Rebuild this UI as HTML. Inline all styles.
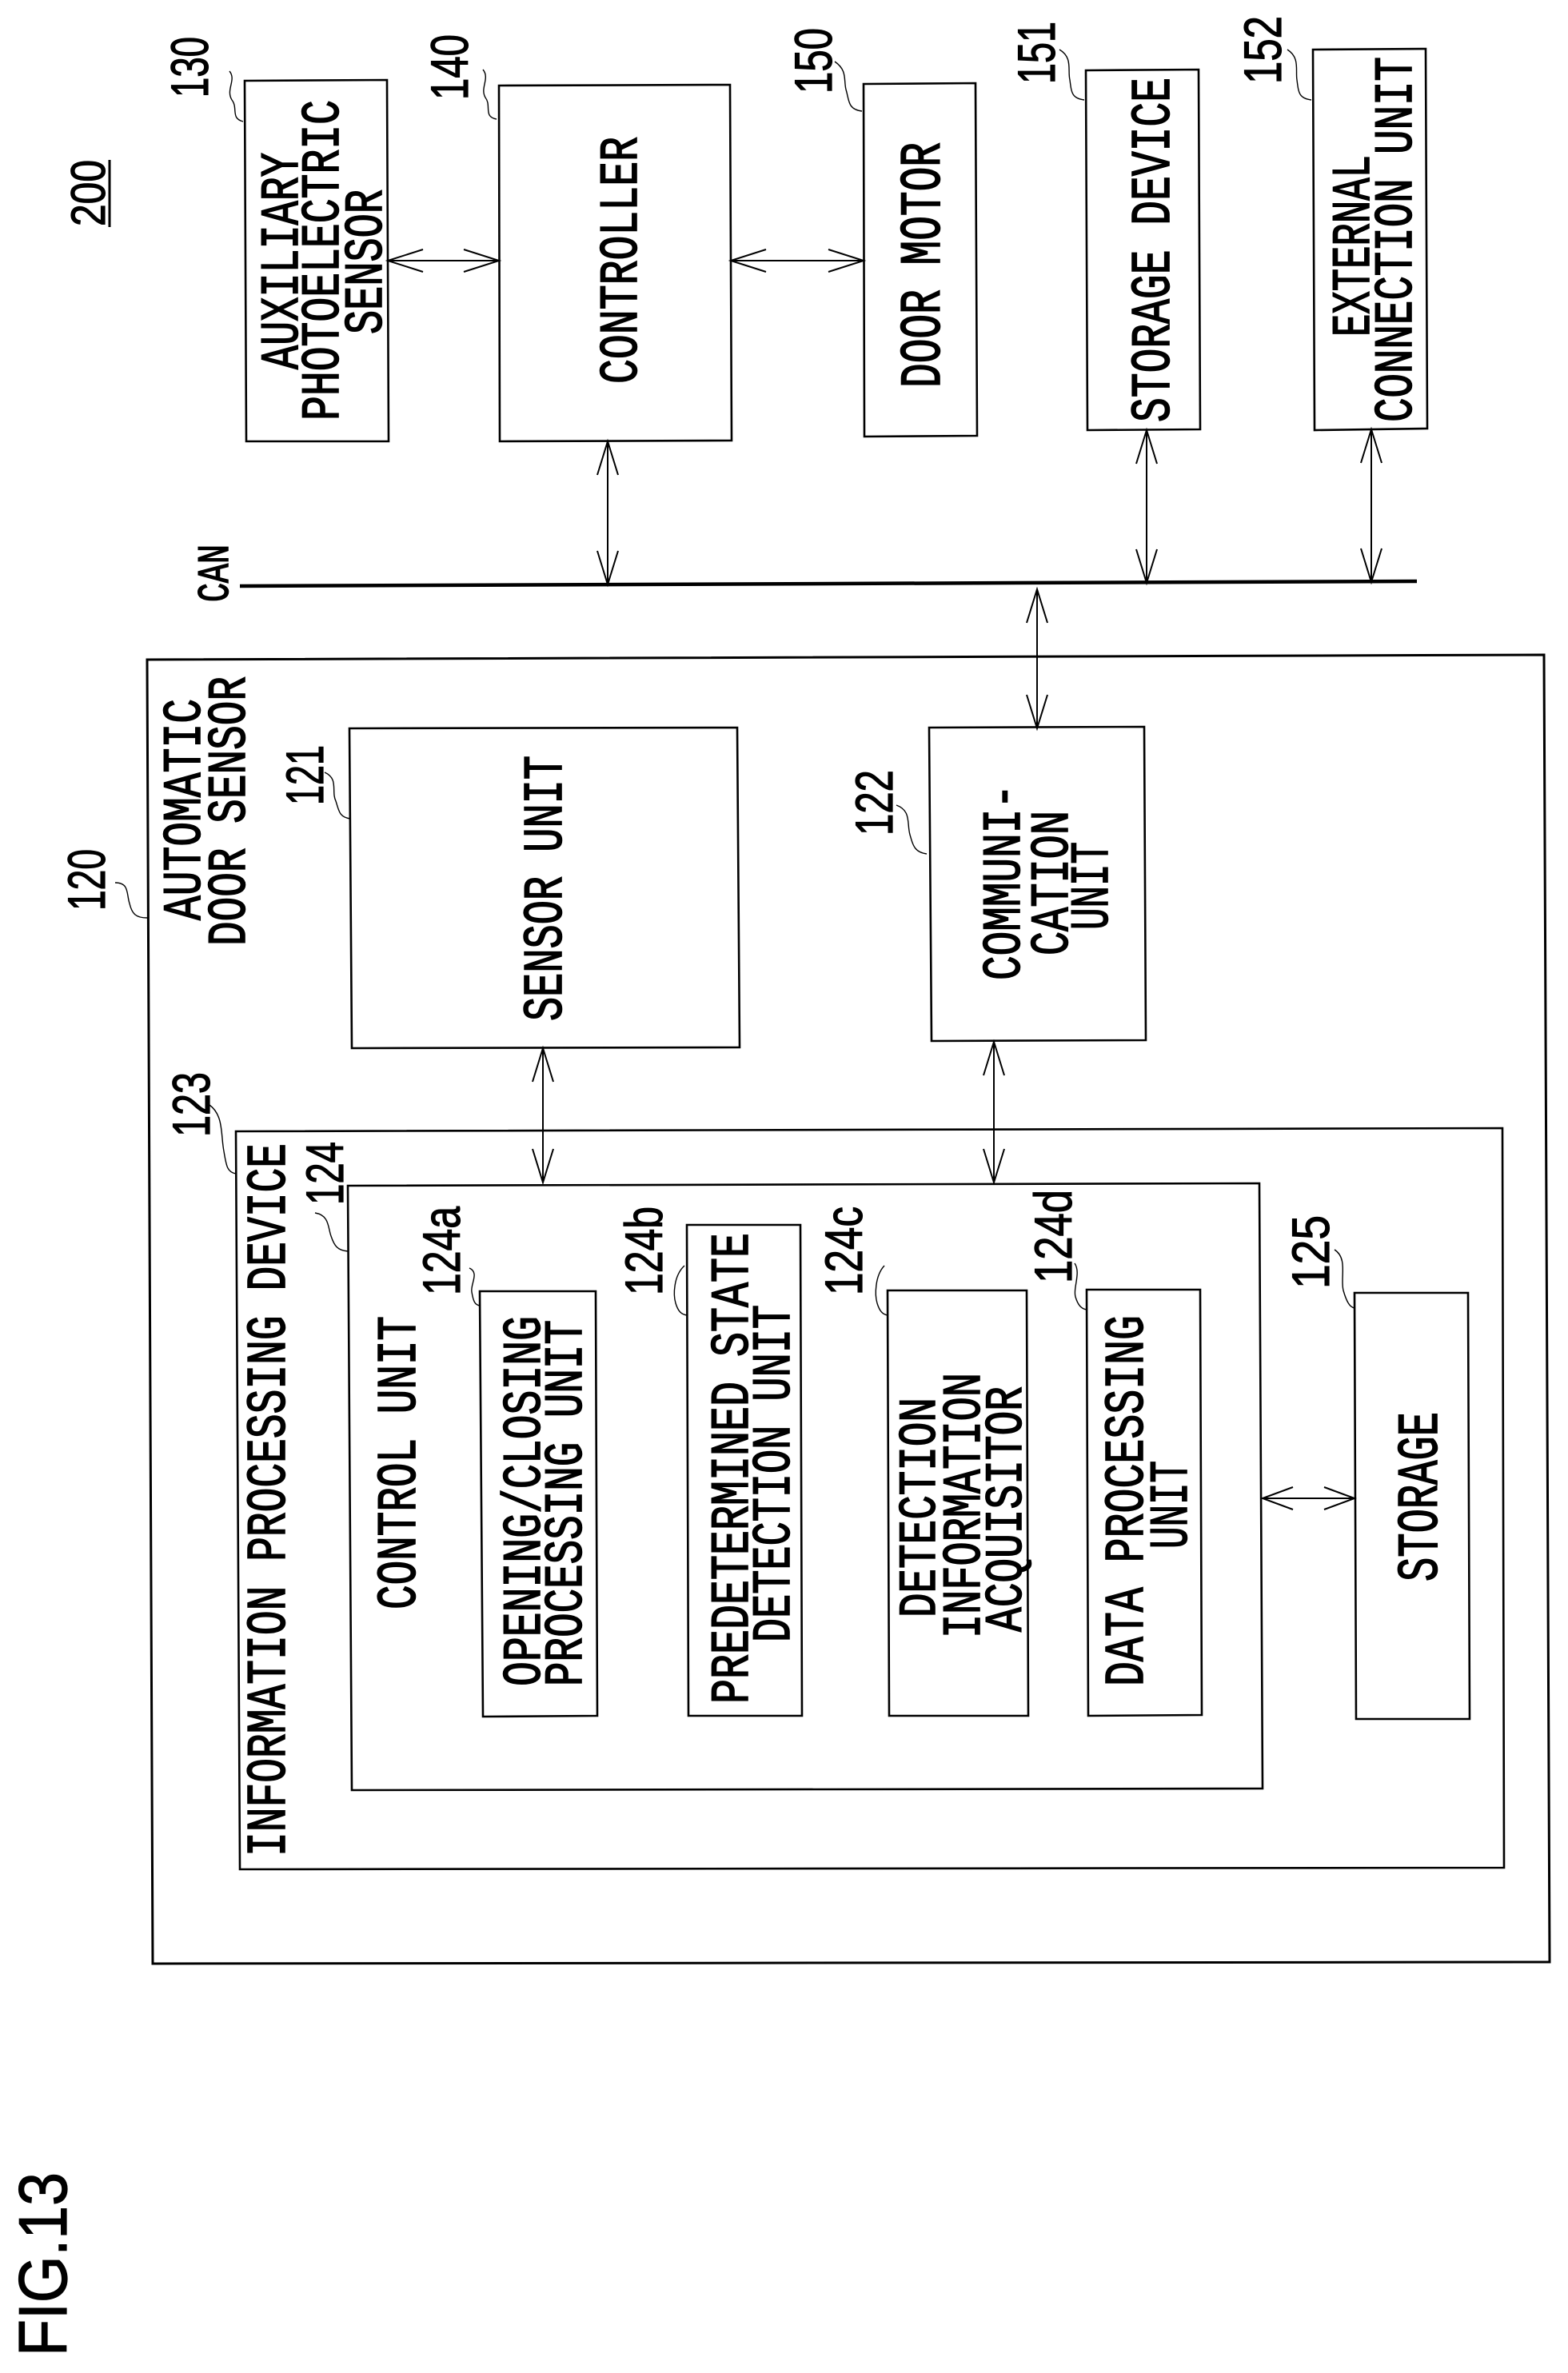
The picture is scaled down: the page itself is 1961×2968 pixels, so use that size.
<!DOCTYPE html>
<html><head><meta charset="utf-8"><title>FIG.13</title>
<style>
html,body{margin:0;padding:0;background:#fff}
svg{display:block}
text{font-family:"Liberation Sans",sans-serif;fill:#000;stroke:#000;stroke-width:1.2px}
text.m{font-family:"Liberation Mono",monospace;font-weight:normal;stroke-width:1.6px}
polygon{fill:none;stroke:#000;stroke-width:2.6}
.a{fill:none;stroke:#000;stroke-width:2}
.l{fill:none;stroke:#000;stroke-width:1.4}
</style></head><body>
<svg xmlns="http://www.w3.org/2000/svg" width="1961" height="2968" viewBox="0 0 1961 2968">
<rect width="1961" height="2968" fill="#fff"/>

<!-- boxes -->
<polygon points="306,101 484,100 486,552 308,552"/>
<polygon points="624,107 913,106 915,551 625,552"/>
<polygon points="1080,105 1220,104 1222,545 1081,546"/>
<polygon points="1358,88 1499,87 1501,537 1360,538"/>
<polygon points="1642,62 1783,61 1785,536 1644,538"/>
<polygon points="184,825 1931,819 1938,2454 191,2456" style="stroke-width:3"/>
<polygon points="437,911 922,910 925,1310 440,1311"/>
<polygon points="1162,910 1431,909 1433,1301 1165,1302"/>
<polygon points="295,1415 1879,1411 1881,2336 300,2338"/>
<polygon points="435,1483 1575,1480 1579,2237 440,2239"/>
<polygon points="600,1615 745,1615 747,2146 604,2147"/>
<polygon points="859,1532 1001,1532 1003,2146 861,2146"/>
<polygon points="1110,1614 1284,1614 1286,2146 1112,2146"/>
<polygon points="1359,1613 1501,1613 1503,2145 1361,2146"/>
<polygon points="1694,1617 1836,1617 1838,2150 1696,2150"/>

<!-- CAN bus -->
<line x1="300" y1="733" x2="1772" y2="727" stroke="#000" stroke-width="4.5"/>

<!-- arrows -->
<path class="a" d="M485,326H624M529,312L485,326L529,340M580,312L624,326L580,340"/>
<path class="a" d="M914,326H1080M958,312L914,326L958,340M1036,312L1080,326L1036,340"/>
<path class="a" d="M760,552V731M747,594L760,552L773,594M747,689L760,731L773,689"/>
<path class="a" d="M1434,538V729M1421,580L1434,538L1447,580M1421,687L1434,729L1447,687"/>
<path class="a" d="M1715,537V728M1702,579L1715,537L1728,579M1702,686L1715,728L1728,686"/>
<path class="a" d="M1297,737V911M1284,779L1297,737L1310,779M1284,869L1297,911L1310,869"/>
<path class="a" d="M679,1311V1479M666,1353L679,1311L692,1353M666,1437L679,1479L692,1437"/>
<path class="a" d="M1243,1303V1479M1230,1345L1243,1303L1256,1345M1230,1437L1243,1479L1256,1437"/>
<path class="a" d="M1579,1874H1694M1617,1860L1579,1874L1617,1888M1656,1860L1694,1874L1656,1888"/>

<!-- leaders -->
<path class="l" d="M287,89C296,100 282,112 290,125C298,135 288,148 304,152"/>
<path class="l" d="M604,87C613,98 600,110 607,122C615,132 604,146 621,149"/>
<path class="l" d="M1044,77C1060,88 1055,100 1058,112C1062,125 1060,137 1078,139"/>
<path class="l" d="M1325,62C1342,72 1335,88 1338,100C1340,115 1340,123 1356,125"/>
<path class="l" d="M1610,62C1626,72 1620,88 1622,100C1624,115 1624,123 1640,125"/>
<path class="l" d="M144,1104C162,1104 158,1118 162,1130C165,1143 170,1148 184,1148"/>
<path class="l" d="M406,966C424,974 414,990 420,1002C424,1014 424,1022 438,1024"/>
<path class="l" d="M1121,1007C1140,1014 1134,1030 1138,1044C1142,1058 1144,1066 1159,1068"/>
<path class="l" d="M262,1382C280,1395 276,1420 280,1440C283,1458 284,1466 295,1468"/>
<path class="l" d="M394,1517C412,1520 410,1535 414,1546C418,1558 422,1564 435,1565"/>
<path class="l" d="M587,1586C600,1592 588,1606 590,1616C592,1628 594,1632 600,1633"/>
<path class="l" d="M856,1583C842,1596 842,1620 845,1630C848,1640 852,1644 859,1645"/>
<path class="l" d="M1106,1583C1094,1596 1094,1620 1097,1630C1100,1640 1104,1644 1110,1645"/>
<path class="l" d="M1344,1580C1352,1592 1342,1610 1345,1622C1348,1632 1352,1637 1359,1638"/>
<path class="l" d="M1669,1563C1686,1574 1676,1598 1680,1614C1684,1628 1688,1635 1694,1636"/>

<!-- reference numbers -->
<text transform="translate(131,283) rotate(-90)" font-size="60" textLength="83" lengthAdjust="spacingAndGlyphs">200</text>
<line x1="137" y1="200" x2="137" y2="284" stroke="#000" stroke-width="3"/>
<text transform="translate(260,122) rotate(-90)" font-size="66" textLength="76" lengthAdjust="spacingAndGlyphs">130</text>
<text transform="translate(585,125) rotate(-90)" font-size="66" textLength="82" lengthAdjust="spacingAndGlyphs">140</text>
<text transform="translate(1040,117) rotate(-90)" font-size="66" textLength="82" lengthAdjust="spacingAndGlyphs">150</text>
<text transform="translate(1319,105) rotate(-90)" font-size="66" textLength="78" lengthAdjust="spacingAndGlyphs">151</text>
<text transform="translate(1602,105) rotate(-90)" font-size="66" textLength="85" lengthAdjust="spacingAndGlyphs">152</text>
<text transform="translate(131,1139) rotate(-90)" font-size="66" textLength="77" lengthAdjust="spacingAndGlyphs">120</text>
<text transform="translate(404,1007) rotate(-90)" font-size="66" textLength="75" lengthAdjust="spacingAndGlyphs">121</text>
<text transform="translate(1116,1045) rotate(-90)" font-size="66" textLength="82" lengthAdjust="spacingAndGlyphs">122</text>
<text transform="translate(262,1422) rotate(-90)" font-size="66" textLength="81" lengthAdjust="spacingAndGlyphs">123</text>
<text transform="translate(429,1507) rotate(-90)" font-size="66" textLength="79" lengthAdjust="spacingAndGlyphs">124</text>
<text transform="translate(575,1620) rotate(-90)" font-size="66" textLength="111" lengthAdjust="spacingAndGlyphs">124a</text>
<text transform="translate(828,1620) rotate(-90)" font-size="66" textLength="111" lengthAdjust="spacingAndGlyphs">124b</text>
<text transform="translate(1078,1620) rotate(-90)" font-size="66" textLength="111" lengthAdjust="spacingAndGlyphs">124c</text>
<text transform="translate(1340,1605) rotate(-90)" font-size="66" textLength="117" lengthAdjust="spacingAndGlyphs">124d</text>
<text transform="translate(1662,1612) rotate(-90)" font-size="66" textLength="92" lengthAdjust="spacingAndGlyphs">125</text>

<!-- box labels -->
<text class="m" transform="translate(372,462) rotate(-90)" font-size="68" textLength="271" lengthAdjust="spacingAndGlyphs">AUXILIARY</text>
<text class="m" transform="translate(423,526) rotate(-90)" font-size="68" textLength="401" lengthAdjust="spacingAndGlyphs">PHOTOELECTRIC</text>
<text class="m" transform="translate(477,418) rotate(-90)" font-size="68" textLength="181" lengthAdjust="spacingAndGlyphs">SENSOR</text>
<text class="m" transform="translate(796,480) rotate(-90)" font-size="68" textLength="309" lengthAdjust="spacingAndGlyphs">CONTROLLER</text>
<text class="m" transform="translate(1175,485) rotate(-90)" font-size="72" textLength="307" lengthAdjust="spacingAndGlyphs">DOOR MOTOR</text>
<text class="m" transform="translate(1462,528) rotate(-90)" font-size="70" textLength="431" lengthAdjust="spacingAndGlyphs">STORAGE DEVICE</text>
<text class="m" transform="translate(1712,421) rotate(-90)" font-size="68" textLength="227" lengthAdjust="spacingAndGlyphs">EXTERNAL</text>
<text class="m" transform="translate(1765,528) rotate(-90)" font-size="68" textLength="457" lengthAdjust="spacingAndGlyphs">CONNECTION UNIT</text>
<text class="m" transform="translate(285,753) rotate(-90)" font-size="56" textLength="72" lengthAdjust="spacingAndGlyphs">CAN</text>

<text class="m" transform="translate(250,1151) rotate(-90)" font-size="68" textLength="277" lengthAdjust="spacingAndGlyphs">AUTOMATIC</text>
<text class="m" transform="translate(306,1183) rotate(-90)" font-size="68" textLength="337" lengthAdjust="spacingAndGlyphs">DOOR SENSOR</text>
<text class="m" transform="translate(702,1277) rotate(-90)" font-size="70" textLength="332" lengthAdjust="spacingAndGlyphs">SENSOR UNIT</text>
<text class="m" transform="translate(1275,1226) rotate(-90)" font-size="68" textLength="245" lengthAdjust="spacingAndGlyphs">COMMUNI-</text>
<text class="m" transform="translate(1335,1195) rotate(-90)" font-size="68" textLength="181" lengthAdjust="spacingAndGlyphs">CATION</text>
<text class="m" transform="translate(1385,1163) rotate(-90)" font-size="68" textLength="110" lengthAdjust="spacingAndGlyphs">UNIT</text>

<text class="m" transform="translate(356,2322) rotate(-90)" font-size="70" textLength="892" lengthAdjust="spacingAndGlyphs">INFORMATION PROCESSING DEVICE</text>
<text class="m" transform="translate(519,2013) rotate(-90)" font-size="70" textLength="367" lengthAdjust="spacingAndGlyphs">CONTROL UNIT</text>
<text class="m" transform="translate(675,2109) rotate(-90)" font-size="68" textLength="463" lengthAdjust="spacingAndGlyphs">OPENING/CLOSING</text>
<text class="m" transform="translate(727,2109) rotate(-90)" font-size="68" textLength="458" lengthAdjust="spacingAndGlyphs">PROCESSING UNIT</text>
<text class="m" transform="translate(935,2131) rotate(-90)" font-size="68" textLength="589" lengthAdjust="spacingAndGlyphs">PREDETERMINED STATE</text>
<text class="m" transform="translate(987,2054) rotate(-90)" font-size="68" textLength="422" lengthAdjust="spacingAndGlyphs">DETECTION UNIT</text>
<text class="m" transform="translate(1169,2023) rotate(-90)" font-size="66" textLength="275" lengthAdjust="spacingAndGlyphs">DETECTION</text>
<text class="m" transform="translate(1225,2049) rotate(-90)" font-size="68" textLength="332" lengthAdjust="spacingAndGlyphs">INFORMATION</text>
<text class="m" transform="translate(1277,2041) rotate(-90)" font-size="66" textLength="307" lengthAdjust="spacingAndGlyphs">ACQUISITOR</text>
<text class="m" transform="translate(1429,2109) rotate(-90)" font-size="70" textLength="464" lengthAdjust="spacingAndGlyphs">DATA PROCESSING</text>
<text class="m" transform="translate(1484,1937) rotate(-90)" font-size="68" textLength="110" lengthAdjust="spacingAndGlyphs">UNIT</text>
<text class="m" transform="translate(1797,1978) rotate(-90)" font-size="72" textLength="212" lengthAdjust="spacingAndGlyphs">STORAGE</text>

<text transform="translate(83,2947) rotate(-90)" font-size="85" textLength="230" lengthAdjust="spacingAndGlyphs">FIG.13</text>
</svg>
</body></html>
